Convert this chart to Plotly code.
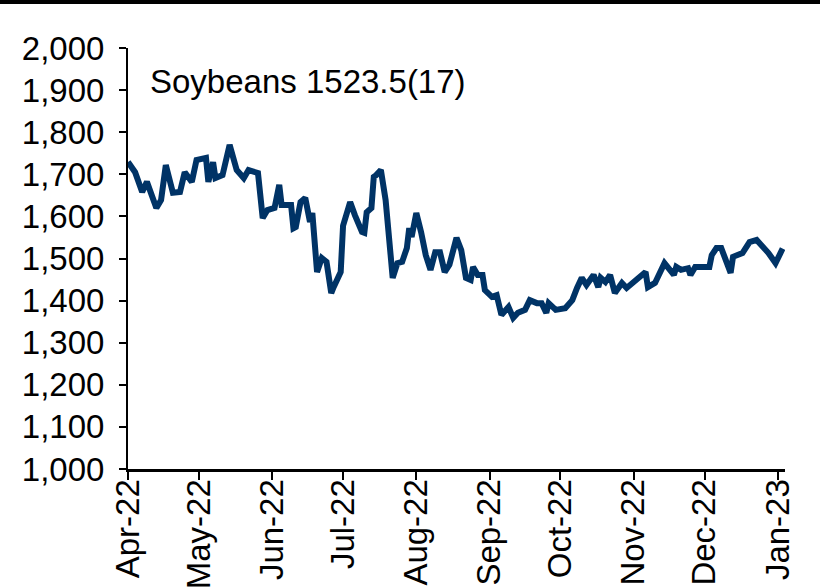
import pandas as pd
import plotly.graph_objects as go

# traced soybean price path (US cents/bu), Apr-22 .. Jan-23
dates = [
    '2022-04-01', '2022-04-04', '2022-04-07', '2022-04-09', '2022-04-13', '2022-04-15',
    '2022-04-17', '2022-04-20', '2022-04-23', '2022-04-25', '2022-04-28', '2022-04-30',
    '2022-05-04', '2022-05-05', '2022-05-07', '2022-05-08', '2022-05-11', '2022-05-14',
    '2022-05-17', '2022-05-20', '2022-05-22', '2022-05-26', '2022-05-28', '2022-05-30',
    '2022-06-02', '2022-06-04', '2022-06-05', '2022-06-09', '2022-06-10', '2022-06-11',
    '2022-06-13', '2022-06-15', '2022-06-17', '2022-06-18', '2022-06-20', '2022-06-22',
    '2022-06-24', '2022-06-26', '2022-06-27', '2022-06-30', '2022-07-01', '2022-07-04',
    '2022-07-06', '2022-07-09', '2022-07-10', '2022-07-11', '2022-07-13', '2022-07-14',
    '2022-07-15', '2022-07-17', '2022-07-19', '2022-07-22', '2022-07-24', '2022-07-26',
    '2022-07-28', '2022-07-29', '2022-07-30', '2022-08-01', '2022-08-03', '2022-08-05',
    '2022-08-07', '2022-08-09', '2022-08-11', '2022-08-13', '2022-08-15', '2022-08-18',
    '2022-08-20', '2022-08-22', '2022-08-24', '2022-08-25', '2022-08-27', '2022-08-29',
    '2022-08-30', '2022-09-02', '2022-09-04', '2022-09-06', '2022-09-09', '2022-09-11',
    '2022-09-13', '2022-09-16', '2022-09-18', '2022-09-21', '2022-09-23', '2022-09-25',
    '2022-09-26', '2022-09-29', '2022-10-03', '2022-10-06', '2022-10-08', '2022-10-10',
    '2022-10-12', '2022-10-15', '2022-10-17', '2022-10-18', '2022-10-20', '2022-10-22',
    '2022-10-24', '2022-10-27', '2022-10-29', '2022-11-02', '2022-11-06', '2022-11-07',
    '2022-11-10', '2022-11-14', '2022-11-16', '2022-11-18', '2022-11-19', '2022-11-21',
    '2022-11-24', '2022-11-25', '2022-11-27', '2022-12-03', '2022-12-04', '2022-12-06',
    '2022-12-08', '2022-12-10', '2022-12-12', '2022-12-13', '2022-12-17', '2022-12-20',
    '2022-12-23', '2022-12-28', '2022-12-31', '2023-01-03',
]
prices = [
    1729, 1705, 1658, 1682, 1620, 1639,
    1722, 1656, 1658, 1705, 1682, 1734,
    1739, 1682, 1729, 1691, 1698, 1770,
    1710, 1691, 1710, 1703, 1596, 1615,
    1620, 1675, 1627, 1627, 1572, 1575,
    1634, 1644, 1587, 1608, 1468, 1501,
    1492, 1418, 1432, 1468, 1578, 1634,
    1603, 1563, 1561, 1610, 1620, 1694,
    1698, 1710, 1639, 1454, 1489, 1492,
    1525, 1572, 1551, 1608, 1563, 1508,
    1473, 1515, 1515, 1468, 1485, 1549,
    1520, 1454, 1449, 1480, 1461, 1461,
    1425, 1409, 1413, 1366, 1385, 1359,
    1371, 1378, 1401, 1394, 1394, 1371,
    1394, 1378, 1382, 1401, 1430, 1454,
    1437, 1461, 1432, 1454, 1444, 1461,
    1418, 1442, 1430, 1449, 1468, 1432,
    1442, 1489, 1477, 1461, 1480, 1473,
    1477, 1461, 1480, 1480, 1508, 1525,
    1525, 1496, 1466, 1504, 1513, 1539,
    1544, 1513, 1489, 1523.5,
]
label_text = 'Soybeans 1523.5(17)'

x_dates = pd.to_datetime(dates)
font_family = 'Liberation Sans, Arial, sans-serif'

fig = go.Figure()

fig.add_trace(
    go.Scatter(
        x=x_dates,
        y=prices,
        mode='lines',
        line=dict(color='#003366', width=6),
        showlegend=False,
    )
)

fig.add_annotation(
    x=0.03,
    y=0.92,
    xref='paper',
    yref='paper',
    xanchor='left',
    yanchor='middle',
    text=label_text,
    showarrow=False,
    font=dict(family=font_family, size=33, color='black'),
)

# black rule across the very top of the page
fig.add_shape(
    type='line',
    xref='paper',
    yref='paper',
    x0=-0.2,
    x1=1.06,
    y0=1.1093,
    y1=1.1093,
    line=dict(color='black', width=4),
)

fig.update_layout(
    width=820,
    height=588,
    margin=dict(l=128, r=35, t=48, b=119),
    paper_bgcolor='white',
    plot_bgcolor='white',
    font=dict(family=font_family, size=33, color='black'),
    xaxis=dict(
        range=['2022-04-01', '2023-01-04'],
        tick0='2022-04-01',
        dtick='M1',
        tickformat='%b-%y',
        tickangle=-90,
        automargin=False,
        showgrid=False,
        zeroline=False,
        showline=True,
        linecolor='black',
        linewidth=3,
        ticks='outside',
        ticklen=8,
        tickwidth=2,
        tickcolor='black',
        ticklabelstandoff=-14,
        tickfont=dict(family=font_family, size=33),
    ),
    yaxis=dict(
        range=[1000, 2000],
        dtick=100,
        tickformat=',',
        automargin=False,
        showgrid=False,
        zeroline=False,
        showline=True,
        linecolor='black',
        linewidth=2,
        ticks='outside',
        ticklen=7,
        tickwidth=2,
        tickcolor='black',
        ticklabelstandoff=8,
        tickfont=dict(family=font_family, size=33),
    ),
)

fig.write_html(
    'out.html',
    config={'displayModeBar': False},
    post_script="document.body.style.margin='0';document.body.style.overflow='hidden';",
)
